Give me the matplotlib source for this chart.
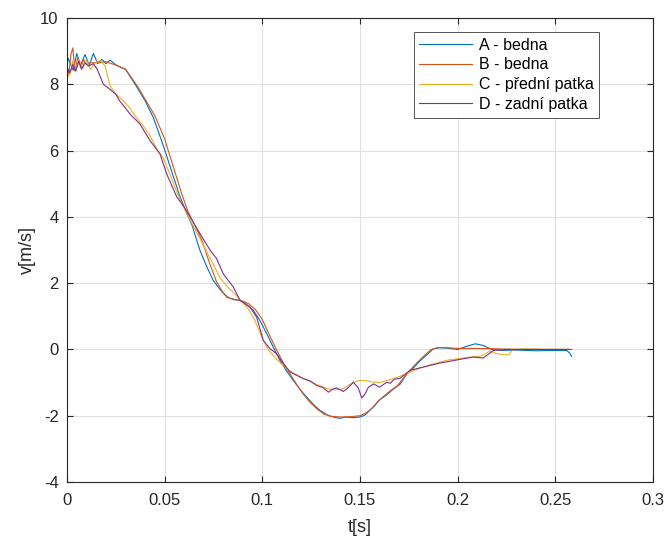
import matplotlib.pyplot as plt

# A - bedna (blue)
t_a = [0, 0.0007, 0.0018, 0.0032, 0.005, 0.007, 0.0092, 0.0114, 0.0135, 0.0157, 0.0178, 0.02, 0.022, 0.0254,
       0.03, 0.0357, 0.040, 0.0442, 0.0493, 0.054, 0.0579, 0.061, 0.064, 0.068, 0.0715, 0.0749, 0.0785, 0.0818,
       0.0855, 0.0886, 0.092, 0.0954, 0.099, 0.1023, 0.1055, 0.109, 0.1125, 0.1159, 0.1195, 0.1227, 0.126, 0.1295,
       0.133, 0.1364, 0.1395, 0.143, 0.146, 0.150, 0.1525, 0.155, 0.1575, 0.160, 0.1635, 0.167, 0.1705, 0.174,
       0.1775, 0.181, 0.1845, 0.1876, 0.191, 0.1944, 0.2, 0.205, 0.209, 0.2131, 0.2174, 0.222, 0.23, 0.24, 0.25,
       0.2558, 0.2572, 0.2584]
v_a = [8.6, 8.78, 8.6, 8.42, 8.93, 8.57, 8.9, 8.57, 8.93, 8.62, 8.75, 8.62, 8.73, 8.57,
       8.45, 7.92, 7.5, 7.0, 6.15, 5.3, 4.6, 4.15, 3.75, 3.0, 2.5, 2.08, 1.8, 1.58,
       1.5, 1.48, 1.35, 1.18, 0.85, 0.47, 0.08, -0.33, -0.66, -0.94, -1.22, -1.44, -1.65, -1.84,
       -1.97, -2.04, -2.08, -2.04, -2.06, -2.04, -1.98, -1.84, -1.7, -1.52, -1.38, -1.2, -1.05, -0.73,
       -0.55, -0.33, -0.15, 0.02, 0.05, 0.04, 0.0, 0.1, 0.17, 0.12, 0.0, -0.03, -0.02, -0.04, -0.03,
       -0.03, -0.1, -0.21]

# B - bedna (orange)
t_b = [0, 0.001, 0.002, 0.003, 0.004, 0.0055, 0.007, 0.0085, 0.010, 0.012, 0.015, 0.02, 0.025, 0.03, 0.036,
       0.041, 0.045, 0.050, 0.055, 0.059, 0.062, 0.065, 0.069, 0.073, 0.0765, 0.080, 0.083, 0.0865, 0.0895,
       0.093, 0.0965, 0.100, 0.1035, 0.107, 0.1105, 0.114, 0.1175, 0.121, 0.1245, 0.128, 0.1315, 0.135, 0.140,
       0.145, 0.150, 0.153, 0.156, 0.159, 0.162, 0.1655, 0.169, 0.1725, 0.176, 0.1795, 0.183, 0.1865, 0.190,
       0.195, 0.2, 0.21, 0.22, 0.23, 0.24, 0.25, 0.2585]
v_b = [8.5, 8.3, 8.9, 9.1, 8.4, 8.8, 8.5, 8.75, 8.6, 8.65, 8.65, 8.68, 8.58, 8.45, 7.95,
       7.45, 7.05, 6.35, 5.4, 4.65, 4.15, 3.8, 3.3, 2.6, 2.05, 1.7, 1.55, 1.5, 1.47,
       1.38, 1.2, 0.9, 0.45, 0.02, -0.38, -0.72, -1.05, -1.35, -1.6, -1.8, -1.95, -2.02, -2.04,
       -2.03, -2.0, -1.92, -1.78, -1.58, -1.42, -1.25, -1.1, -0.85, -0.6, -0.38, -0.18, 0.0, 0.06,
       0.05, 0.03, 0.03, 0.02, 0.0, 0.0, 0.0, 0.0]

# C - přední patka (yellow)
t_c = [0, 0.0015, 0.003, 0.0045, 0.006, 0.008, 0.010, 0.012, 0.0145, 0.017, 0.0195, 0.022, 0.025, 0.028,
       0.032, 0.0355, 0.039, 0.0425, 0.046, 0.0495, 0.053, 0.0565, 0.060, 0.064, 0.068, 0.0715, 0.075, 0.0785,
       0.082, 0.0855, 0.089, 0.0925, 0.096, 0.0995, 0.103, 0.1065, 0.110, 0.1135, 0.117, 0.121, 0.125, 0.129,
       0.133, 0.137, 0.141, 0.145, 0.1485, 0.152, 0.156, 0.160, 0.165, 0.170, 0.175, 0.180, 0.185, 0.190,
       0.195, 0.2, 0.205, 0.2115, 0.2166, 0.2195, 0.223, 0.226, 0.2285, 0.235, 0.245, 0.256]
v_c = [8.2, 8.3, 8.7, 8.4, 8.75, 8.5, 8.72, 8.45, 8.65, 8.72, 8.55, 7.97, 7.7, 7.55,
       7.3, 7.0, 6.75, 6.45, 6.05, 5.75, 5.25, 4.7, 4.25, 3.8, 3.35, 2.95, 2.55, 2.15,
       1.9, 1.7, 1.48, 1.25, 0.9, 0.4, 0.0, -0.25, -0.45, -0.62, -0.75, -0.88, -0.98, -1.08,
       -1.18, -1.22, -1.2, -1.05, -0.95, -0.93, -0.98, -1.0, -0.92, -0.82, -0.7, -0.58, -0.48, -0.4,
       -0.32, -0.28, -0.24, -0.21, -0.05, -0.12, -0.16, -0.16, 0.0, 0.02, 0.0, 0.0]

# D - zadní patka (purple)
t_d = [0, 0.0015, 0.003, 0.0045, 0.006, 0.0075, 0.009, 0.011, 0.0135, 0.0155, 0.0186, 0.022, 0.025, 0.027,
       0.0323, 0.0374, 0.0425, 0.0476, 0.051, 0.0562, 0.060, 0.064, 0.068, 0.0732, 0.0765, 0.080, 0.0852,
       0.0886, 0.0937, 0.0971, 0.1005, 0.104, 0.1073, 0.1108, 0.1142, 0.121, 0.1245, 0.1278, 0.131, 0.1338,
       0.136, 0.138, 0.1415, 0.144, 0.1466, 0.149, 0.1509, 0.1525, 0.1543, 0.157, 0.160, 0.1637, 0.1655,
       0.1675, 0.1705, 0.1756, 0.1825, 0.191, 0.2012, 0.208, 0.2131, 0.2183, 0.225, 0.235, 0.245, 0.2575]
v_d = [8.5, 8.35, 8.6, 8.4, 8.7, 8.45, 8.65, 8.55, 8.62, 8.45, 8.0, 7.85, 7.7, 7.5,
       7.1, 6.8, 6.3, 5.9, 5.3, 4.6, 4.3, 3.9, 3.5, 3.0, 2.75, 2.28, 1.88,
       1.48, 1.28, 0.97, 0.27, 0.02, -0.13, -0.43, -0.68, -0.88, -0.95, -1.09, -1.15, -1.29,
       -1.2, -1.16, -1.27, -1.15, -0.99, -1.15, -1.46, -1.35, -1.14, -1.04, -1.14, -0.99, -1.02,
       -0.9, -0.87, -0.63, -0.53, -0.41, -0.3, -0.23, -0.26, -0.03, 0.0, 0.0, 0.0, 0.0]

labels = ['A - bedna', 'B - bedna', 'C - přední patka', 'D - zadní patka']
colors = ['#0072BD', '#D95319', '#EDB120', '#7E2F8E']
x_ticks = [0, 0.05, 0.1, 0.15, 0.2, 0.25, 0.3]
x_labels = ['0', '0.05', '0.1', '0.15', '0.2', '0.25', '0.3']
y_ticks = [-4, -2, 0, 2, 4, 6, 8, 10]

plt.rcParams['font.family'] = ['Liberation Sans Narrow', 'Liberation Sans', 'DejaVu Sans']
plt.rcParams['axes.unicode_minus'] = False

fig = plt.figure(figsize=(6.65, 5.39), dpi=100)
ax = fig.add_axes([67 / 665, 1 - 482 / 539, 586 / 665, 464 / 539])

for t, v, lab, c in zip([t_a, t_b, t_c, t_d], [v_a, v_b, v_c, v_d], labels, colors):
    ax.plot(t, v, color=c, lw=0.8, label=lab)

ax.set_xlim(0, 0.3)
ax.set_ylim(-4, 10)
ax.set_xticks(x_ticks)
ax.set_xticklabels(x_labels)
ax.set_yticks(y_ticks)
ax.grid(True, color='#e0e0e0', lw=0.8)
ax.set_axisbelow(True)
ax.tick_params(direction='in', top=True, right=True, labelsize=12, colors='#262626', length=4)
ax.tick_params(axis='x', pad=8)
ax.tick_params(axis='y', pad=6)
for s in ax.spines.values():
    s.set_color('#262626')
    s.set_linewidth(0.8)
ax.set_xlabel('t[s]', fontsize=13, color='#262626', labelpad=8)
ax.set_ylabel('v[m/s]', fontsize=13, color='#262626', labelpad=3)

leg = ax.legend(loc='upper right', bbox_to_anchor=((599 - 67) / 586, 1 - 14 / 464), fontsize=11.5,
                handlelength=3.3, fancybox=False, framealpha=1, edgecolor='#555555',
                borderpad=0.35, labelspacing=0.3, handletextpad=0.4, borderaxespad=0)
leg.get_frame().set_linewidth(0.7)

fig.savefig('out.png', dpi=100)
